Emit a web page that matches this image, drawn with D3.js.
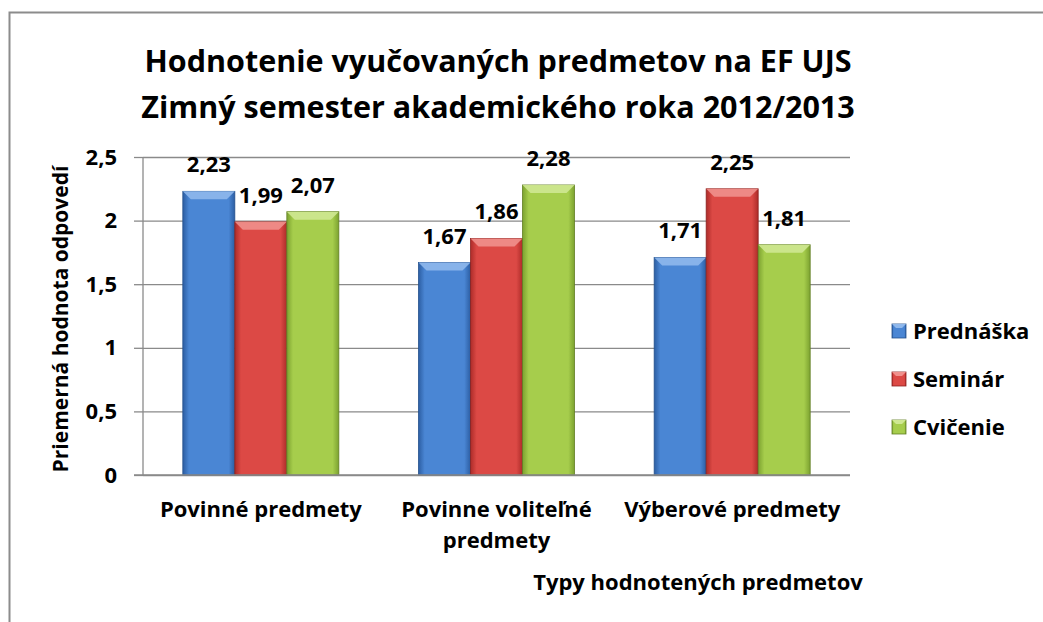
<!DOCTYPE html>
<html>
<head>
<meta charset="utf-8">
<script src="https://cdn.jsdelivr.net/npm/d3@7"></script>
<style>
  body { margin: 0; background: #fff; }
  text { font-family: "Open Sans", sans-serif; font-weight: bold; fill: #000; }
</style>
</head>
<body>
<div id="chart"></div>
<script>
// chart data
var categories = [["Povinné predmety"], ["Povinne voliteľné", "predmety"], ["Výberové predmety"]];
var series = ["Prednáška", "Seminár", "Cvičenie"];
var prednaska = [2.23, 1.67, 1.71];
var seminar = [1.99, 1.86, 2.25];
var cvicenie = [2.07, 2.28, 1.81];
var yTicks = [0, 0.5, 1, 1.5, 2, 2.5];
var titleLines = ["Hodnotenie vyučovaných predmetov na EF UJS", "Zimný semester akademického roka 2012/2013"];
var yTitle = "Priemerná hodnota odpovedí";
var xTitle = "Typy hodnotených predmetov";

var values = [prednaska, seminar, cvicenie];
var colors = [
  {mid: "#4a86d4", edge: "#2c5ea3", top: "#8fb8ec", dark: "#24508c"},
  {mid: "#dc4945", edge: "#ad2c29", top: "#f0908c", dark: "#8c2220"},
  {mid: "#a6cd4c", edge: "#7ca230", top: "#cfe892", dark: "#627f24"}
];

var fmt = function(v) { return String(v).replace(".", ","); };

var W = 1043, H = 622;
var plot = {left: 143, right: 850, top: 157, bottom: 475};

var svg = d3.select("#chart")
  .append("svg")
  .attr("width", W)
  .attr("height", H);

// outer frame
svg.append("rect")
  .attr("x", 9.5).attr("y", 12.5)
  .attr("width", 1040).attr("height", 640)
  .attr("fill", "none")
  .attr("stroke", "#8c8c8c")
  .attr("stroke-width", 2);

// gradients for the bevelled bars
var defs = svg.append("defs");
colors.forEach(function(c, i) {
  var g = defs.append("linearGradient")
    .attr("id", "grad" + i)
    .attr("x1", "0").attr("x2", "1").attr("y1", "0").attr("y2", "0");
  g.append("stop").attr("offset", "0").attr("stop-color", c.edge);
  g.append("stop").attr("offset", "0.12").attr("stop-color", c.mid);
  g.append("stop").attr("offset", "0.88").attr("stop-color", c.mid);
  g.append("stop").attr("offset", "1").attr("stop-color", c.edge);
});

// scales
var x0 = d3.scaleBand()
  .domain(d3.range(categories.length))
  .range([plot.left, plot.right])
  .paddingInner(0.338)
  .paddingOuter(0.169);

var x1 = d3.scaleBand()
  .domain(d3.range(series.length))
  .range([0, x0.bandwidth()]);

var y = d3.scaleLinear()
  .domain([0, 2.5])
  .range([plot.bottom, plot.top]);

// gridlines
svg.append("g")
  .attr("transform", "translate(" + plot.left + ",0)")
  .call(d3.axisLeft(y)
    .tickValues(yTicks)
    .tickSize(-(plot.right - plot.left))
    .tickFormat(""))
  .call(function(g) {
    g.select(".domain").remove();
    g.selectAll(".tick line").attr("stroke", "#8a8a8a").attr("stroke-width", 1.3);
  });

// y axis
var yAxis = svg.append("g")
  .attr("transform", "translate(" + plot.left + ",0)")
  .call(d3.axisLeft(y)
    .tickValues(yTicks)
    .tickSize(9)
    .tickPadding(17)
    .tickFormat(fmt));
yAxis.select(".domain").attr("stroke", "#8a8a8a").attr("stroke-width", 1.3)
  .attr("d", "M0," + plot.top + "V" + plot.bottom);
yAxis.selectAll(".tick line").attr("stroke", "#8a8a8a").attr("stroke-width", 1.3);
yAxis.selectAll(".tick text")
  .style("font-family", "'Open Sans', sans-serif")
  .style("font-weight", "bold")
  .style("font-size", "22px")
  .attr("fill", "#000");

// bars
var bevel = 8;
var groups = svg.selectAll(".grp")
  .data(categories)
  .enter().append("g")
  .attr("class", "grp")
  .attr("transform", function(d, i) { return "translate(" + x0(i) + ",0)"; });

groups.each(function(cat, ci) {
  var g = d3.select(this);
  series.forEach(function(s, si) {
    var v = values[si][ci];
    var bx = x1(si), bw = x1.bandwidth(), by = y(v), bh = y(0) - y(v);
    var c = colors[si];
    g.append("rect")
      .attr("x", bx).attr("y", by)
      .attr("width", bw).attr("height", bh)
      .attr("fill", "url(#grad" + si + ")")
      .attr("stroke", c.dark)
      .attr("stroke-width", 0.8);
    g.append("path")
      .attr("d", "M" + bx + "," + by + "L" + (bx + bw) + "," + by +
        "L" + (bx + bw - bevel) + "," + (by + bevel) + "L" + (bx + bevel) + "," + (by + bevel) + "Z")
      .attr("fill", c.top)
      .attr("opacity", 0.9);
  });
});

// data labels (drawn after all bars so they sit on top)
groups.each(function(cat, ci) {
  var g = d3.select(this);
  series.forEach(function(s, si) {
    var v = values[si][ci];
    g.append("text")
      .attr("x", x1(si) + x1.bandwidth() / 2)
      .attr("y", y(v) - 19)
      .attr("text-anchor", "middle")
      .style("font-size", "22px")
      .text(fmt(v));
  });
});

// bottom axis line
svg.append("line")
  .attr("x1", plot.left - 9).attr("x2", plot.right)
  .attr("y1", plot.bottom).attr("y2", plot.bottom)
  .attr("stroke", "#8a8a8a").attr("stroke-width", 1.3);

// category labels
categories.forEach(function(lines, i) {
  var cx = x0(i) + x0.bandwidth() / 2;
  var t = svg.append("text")
    .attr("x", cx)
    .attr("y", 517)
    .attr("text-anchor", "middle")
    .style("font-size", "22px");
  lines.forEach(function(l, k) {
    t.append("tspan")
      .attr("x", cx)
      .attr("dy", k === 0 ? 0 : 31)
      .text(l);
  });
});

// titles
var title = svg.append("text")
  .attr("x", 498)
  .attr("y", 72)
  .attr("text-anchor", "middle")
  .style("font-size", "30.5px");
titleLines.forEach(function(l, k) {
  title.append("tspan").attr("x", 498).attr("dy", k === 0 ? 0 : 46).text(l);
});

svg.append("text")
  .attr("transform", "translate(68,319) rotate(-90)")
  .attr("text-anchor", "middle")
  .style("font-size", "21px")
  .text(yTitle);

svg.append("text")
  .attr("x", 698)
  .attr("y", 590)
  .attr("text-anchor", "middle")
  .style("font-size", "22px")
  .text(xTitle);

// legend
var legend = svg.selectAll(".leg")
  .data(series)
  .enter().append("g")
  .attr("class", "leg")
  .attr("transform", function(d, i) { return "translate(892," + (331 + i * 48) + ")"; });
legend.append("rect")
  .attr("x", 0).attr("y", -7)
  .attr("width", 14).attr("height", 14)
  .attr("fill", function(d, i) { return "url(#grad" + i + ")"; })
  .attr("stroke", function(d, i) { return colors[i].dark; })
  .attr("stroke-width", 0.8);
legend.append("path")
  .attr("d", "M0,-7L14,-7L10,-3L4,-3Z")
  .attr("fill", function(d, i) { return colors[i].top; });
legend.append("text")
  .attr("x", 21)
  .attr("y", 8)
  .style("font-size", "22px")
  .text(function(d) { return d; });
</script>
</body>
</html>
